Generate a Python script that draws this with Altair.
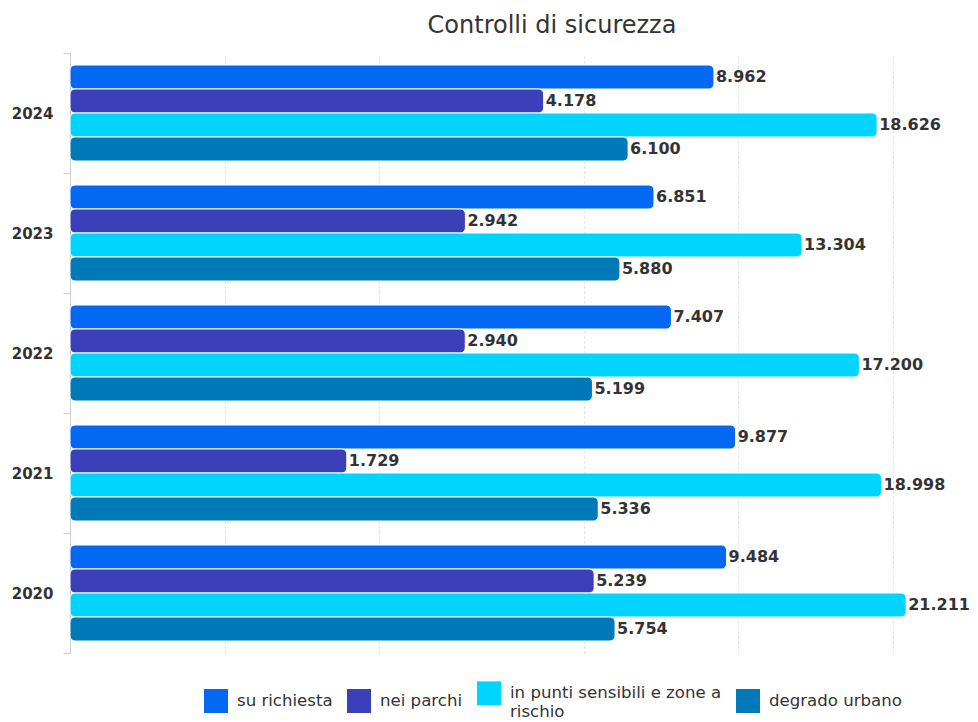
import altair as alt
import pandas as pd

years = ["2024", "2023", "2022", "2021", "2020"]
series = ["su richiesta", "nei parchi", "in punti sensibili e zone a rischio", "degrado urbano"]
colors = ["#0468F2", "#3B40B8", "#00D4FF", "#0079B8"]
su_richiesta = [8962, 6851, 7407, 9877, 9484]
nei_parchi = [4178, 2942, 2940, 1729, 5239]
punti_sensibili = [18626, 13304, 17200, 18998, 21211]
degrado_urbano = [6100, 5880, 5199, 5336, 5754]
grid_values = [1000, 2000, 5000, 10000, 20000]

rows = []
for s, vals in zip(series, [su_richiesta, nei_parchi, punti_sensibili, degrado_urbano]):
    for y, v in zip(years, vals):
        rows.append({"anno": y, "serie": s, "valore": v,
                     "etichetta": f"{v:,}".replace(",", ".")})
df = pd.DataFrame(rows)

FONT = "DejaVu Sans"

y_enc = alt.Y("anno:N", sort=years,
              scale=alt.Scale(paddingInner=0, paddingOuter=0),
              axis=alt.Axis(title=None, tickBand="extent", labelAngle=0,
                            labelFont=FONT, labelFontWeight="bold", labelFontSize=15,
                            labelColor="#333333", labelPadding=10, tickSize=7,
                            domainColor="#c8ccd6", tickColor="#c8ccd6", grid=False))
yoff = alt.YOffset("serie:N", sort=series, scale=alt.Scale(paddingInner=0, paddingOuter=0.5))
x_scale = alt.Scale(type="log", domain=[500, 27000], nice=False)

bars = alt.Chart(df).mark_bar(cornerRadiusEnd=5, stroke="white", strokeWidth=1).encode(
    y=y_enc,
    yOffset=yoff,
    x=alt.X("valore:Q", scale=x_scale, stack=None,
            axis=alt.Axis(values=grid_values, grid=True, gridDash=[2, 3], gridColor="#d9d9d9",
                          labels=False, ticks=False, domain=False, title=None)),
    x2=alt.value(0),
    color=alt.Color("serie:N", sort=series,
                    scale=alt.Scale(domain=series, range=colors),
                    legend=alt.Legend(title=None, orient="none", legendX=134, legendY=628,
                                      direction="horizontal", columns=4,
                                      symbolType="square", symbolSize=576,
                                      symbolStrokeWidth=0,
                                      labelFont=FONT, labelFontSize=16.6, labelColor="#333333",
                                      labelOffset=9, columnPadding=14, labelLimit=400,
                                      padding=0,
                                      labelExpr="datum.label == 'in punti sensibili e zone a rischio' ? ['in punti sensibili e zone a', 'rischio'] : datum.label")),
)

labels = alt.Chart(df).mark_text(align="left", baseline="middle", dx=2, font=FONT,
                                 fontWeight="bold", fontSize=16, color="#333333").encode(
    y=alt.Y("anno:N", sort=years),
    yOffset=yoff,
    x=alt.X("valore:Q", scale=x_scale, stack=None),
    text="etichetta:N",
)

chart = alt.layer(bars, labels).properties(
    width=890, height=600,
    title=alt.TitleParams("Controlli di sicurezza", font=FONT, fontSize=24, fontWeight="normal",
                          color="#333333", anchor="middle", dx=37, offset=8),
    autosize=alt.AutoSizeParams(type="none"),
    padding={"left": 62, "top": 45, "right": 10, "bottom": 69},
).configure_view(stroke=None)

chart.save("out.html", embed_options={"renderer": "svg", "actions": False})
